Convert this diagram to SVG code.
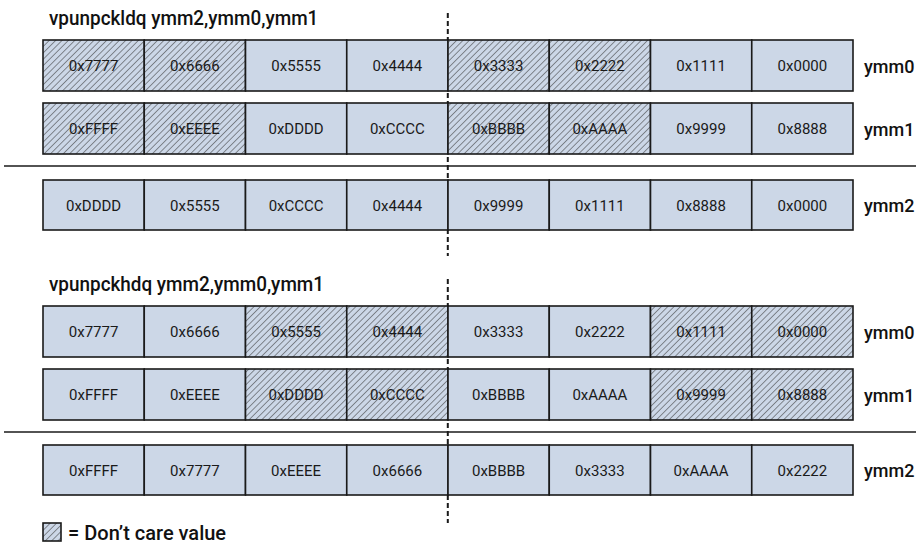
<svg xmlns="http://www.w3.org/2000/svg" width="922" height="548" viewBox="0 0 922 548">
<defs>
<pattern id="hatch" patternUnits="userSpaceOnUse" width="4.5" height="4.5" patternTransform="rotate(45)">
<rect width="4.5" height="4.5" fill="#ccd7e7"/>
<line x1="0" y1="0" x2="0" y2="4.5" stroke="#333" stroke-width="1"/>
</pattern>
<style>
.cell{fill:#ccd7e7;stroke:#1a1a1a;stroke-width:1.6}
.dc{fill:url(#hatch);stroke:#1a1a1a;stroke-width:1.6}
.v{font-family:Roboto,"Liberation Sans",sans-serif;font-size:15px;fill:#1a1a1a;text-anchor:middle}
.reg{font-family:Roboto,"Liberation Sans",sans-serif;font-size:18px;font-weight:500;fill:#111}
.title{font-family:Roboto,"Liberation Sans",sans-serif;font-size:21px;font-weight:500;fill:#111}
.sep{stroke:#1a1a1a;stroke-width:1.6}
.dash{stroke:#1a1a1a;stroke-width:2;stroke-dasharray:5 3}
</style>
</defs>
<rect width="922" height="548" fill="#fff"/>

<g id="connectors">
<line class="dash" x1="447.8" y1="13" x2="447.8" y2="256"/>
<line class="dash" x1="447.8" y1="279" x2="447.8" y2="523"/>
<line class="sep" x1="4" y1="166" x2="916" y2="166"/>
<line class="sep" x1="4" y1="432" x2="916" y2="432"/>
</g>

<g id="title-low"><text class="title" transform="translate(49,25) scale(0.9,1)">vpunpckldq ymm2,ymm0,ymm1</text></g>

<g id="low-ymm0">
<rect class="dc" x="43" y="40" width="101.25" height="51"/>
<rect class="dc" x="144.25" y="40" width="101.25" height="51"/>
<rect class="cell" x="245.5" y="40" width="101.25" height="51"/>
<rect class="cell" x="346.75" y="40" width="101.25" height="51"/>
<rect class="dc" x="448" y="40" width="101.25" height="51"/>
<rect class="dc" x="549.25" y="40" width="101.25" height="51"/>
<rect class="cell" x="650.5" y="40" width="101.25" height="51"/>
<rect class="cell" x="751.75" y="40" width="101.25" height="51"/>
<text class="v" x="93.6" y="71">0x7777</text>
<text class="v" x="194.9" y="71">0x6666</text>
<text class="v" x="296.1" y="71">0x5555</text>
<text class="v" x="397.4" y="71">0x4444</text>
<text class="v" x="498.6" y="71">0x3333</text>
<text class="v" x="599.9" y="71">0x2222</text>
<text class="v" x="701.1" y="71">0x1111</text>
<text class="v" x="802.4" y="71">0x0000</text>
<text class="reg" x="864" y="73">ymm0</text>
</g>

<g id="low-ymm1">
<rect class="dc" x="43" y="103" width="101.25" height="51"/>
<rect class="dc" x="144.25" y="103" width="101.25" height="51"/>
<rect class="cell" x="245.5" y="103" width="101.25" height="51"/>
<rect class="cell" x="346.75" y="103" width="101.25" height="51"/>
<rect class="dc" x="448" y="103" width="101.25" height="51"/>
<rect class="dc" x="549.25" y="103" width="101.25" height="51"/>
<rect class="cell" x="650.5" y="103" width="101.25" height="51"/>
<rect class="cell" x="751.75" y="103" width="101.25" height="51"/>
<text class="v" x="93.6" y="134">0xFFFF</text>
<text class="v" x="194.9" y="134">0xEEEE</text>
<text class="v" x="296.1" y="134">0xDDDD</text>
<text class="v" x="397.4" y="134">0xCCCC</text>
<text class="v" x="498.6" y="134">0xBBBB</text>
<text class="v" x="599.9" y="134">0xAAAA</text>
<text class="v" x="701.1" y="134">0x9999</text>
<text class="v" x="802.4" y="134">0x8888</text>
<text class="reg" x="864" y="136">ymm1</text>
</g>

<g id="low-ymm2">
<rect class="cell" x="43" y="180" width="101.25" height="50"/>
<rect class="cell" x="144.25" y="180" width="101.25" height="50"/>
<rect class="cell" x="245.5" y="180" width="101.25" height="50"/>
<rect class="cell" x="346.75" y="180" width="101.25" height="50"/>
<rect class="cell" x="448" y="180" width="101.25" height="50"/>
<rect class="cell" x="549.25" y="180" width="101.25" height="50"/>
<rect class="cell" x="650.5" y="180" width="101.25" height="50"/>
<rect class="cell" x="751.75" y="180" width="101.25" height="50"/>
<text class="v" x="93.6" y="210.5">0xDDDD</text>
<text class="v" x="194.9" y="210.5">0x5555</text>
<text class="v" x="296.1" y="210.5">0xCCCC</text>
<text class="v" x="397.4" y="210.5">0x4444</text>
<text class="v" x="498.6" y="210.5">0x9999</text>
<text class="v" x="599.9" y="210.5">0x1111</text>
<text class="v" x="701.1" y="210.5">0x8888</text>
<text class="v" x="802.4" y="210.5">0x0000</text>
<text class="reg" x="864" y="212">ymm2</text>
</g>

<g id="title-high"><text class="title" transform="translate(49,291) scale(0.9,1)">vpunpckhdq ymm2,ymm0,ymm1</text></g>

<g id="high-ymm0">
<rect class="cell" x="43" y="306" width="101.25" height="51"/>
<rect class="cell" x="144.25" y="306" width="101.25" height="51"/>
<rect class="dc" x="245.5" y="306" width="101.25" height="51"/>
<rect class="dc" x="346.75" y="306" width="101.25" height="51"/>
<rect class="cell" x="448" y="306" width="101.25" height="51"/>
<rect class="cell" x="549.25" y="306" width="101.25" height="51"/>
<rect class="dc" x="650.5" y="306" width="101.25" height="51"/>
<rect class="dc" x="751.75" y="306" width="101.25" height="51"/>
<text class="v" x="93.6" y="337">0x7777</text>
<text class="v" x="194.9" y="337">0x6666</text>
<text class="v" x="296.1" y="337">0x5555</text>
<text class="v" x="397.4" y="337">0x4444</text>
<text class="v" x="498.6" y="337">0x3333</text>
<text class="v" x="599.9" y="337">0x2222</text>
<text class="v" x="701.1" y="337">0x1111</text>
<text class="v" x="802.4" y="337">0x0000</text>
<text class="reg" x="864" y="339">ymm0</text>
</g>

<g id="high-ymm1">
<rect class="cell" x="43" y="369" width="101.25" height="51"/>
<rect class="cell" x="144.25" y="369" width="101.25" height="51"/>
<rect class="dc" x="245.5" y="369" width="101.25" height="51"/>
<rect class="dc" x="346.75" y="369" width="101.25" height="51"/>
<rect class="cell" x="448" y="369" width="101.25" height="51"/>
<rect class="cell" x="549.25" y="369" width="101.25" height="51"/>
<rect class="dc" x="650.5" y="369" width="101.25" height="51"/>
<rect class="dc" x="751.75" y="369" width="101.25" height="51"/>
<text class="v" x="93.6" y="400">0xFFFF</text>
<text class="v" x="194.9" y="400">0xEEEE</text>
<text class="v" x="296.1" y="400">0xDDDD</text>
<text class="v" x="397.4" y="400">0xCCCC</text>
<text class="v" x="498.6" y="400">0xBBBB</text>
<text class="v" x="599.9" y="400">0xAAAA</text>
<text class="v" x="701.1" y="400">0x9999</text>
<text class="v" x="802.4" y="400">0x8888</text>
<text class="reg" x="864" y="402">ymm1</text>
</g>

<g id="high-ymm2">
<rect class="cell" x="43" y="445" width="101.25" height="50"/>
<rect class="cell" x="144.25" y="445" width="101.25" height="50"/>
<rect class="cell" x="245.5" y="445" width="101.25" height="50"/>
<rect class="cell" x="346.75" y="445" width="101.25" height="50"/>
<rect class="cell" x="448" y="445" width="101.25" height="50"/>
<rect class="cell" x="549.25" y="445" width="101.25" height="50"/>
<rect class="cell" x="650.5" y="445" width="101.25" height="50"/>
<rect class="cell" x="751.75" y="445" width="101.25" height="50"/>
<text class="v" x="93.6" y="475.5">0xFFFF</text>
<text class="v" x="194.9" y="475.5">0x7777</text>
<text class="v" x="296.1" y="475.5">0xEEEE</text>
<text class="v" x="397.4" y="475.5">0x6666</text>
<text class="v" x="498.6" y="475.5">0xBBBB</text>
<text class="v" x="599.9" y="475.5">0x3333</text>
<text class="v" x="701.1" y="475.5">0xAAAA</text>
<text class="v" x="802.4" y="475.5">0x2222</text>
<text class="reg" x="864" y="477">ymm2</text>
</g>

<g id="legend">
<rect class="dc" x="43" y="523" width="18" height="18"/>
<text class="reg" x="68" y="540" style="font-size:20px">= Don’t care value</text>
</g>
</svg>
